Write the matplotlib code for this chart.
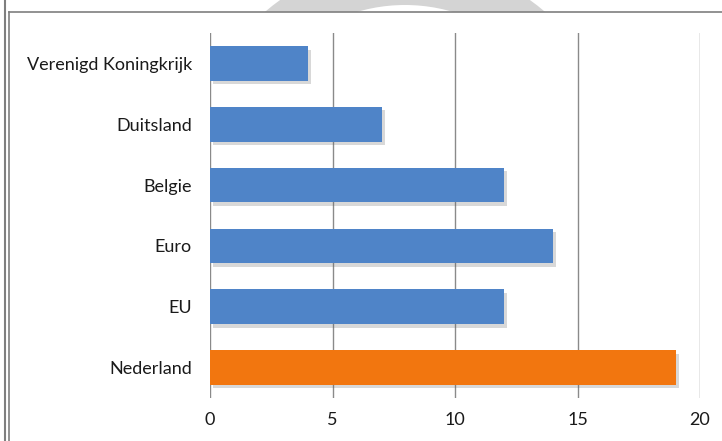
import matplotlib
matplotlib.use("Agg")
import matplotlib.pyplot as plt
import matplotlib.patheffects as pe
from matplotlib.patches import Wedge
from matplotlib.lines import Line2D

categories = ["Verenigd Koningkrijk", "Duitsland", "Belgie", "Euro", "EU", "Nederland"]
values = [4, 7, 12, 14, 12, 19]
colors = ["#4F84C8", "#4F84C8", "#4F84C8", "#4F84C8", "#4F84C8", "#F2760F"]
xticks = [0, 5, 10, 15, 20]

plt.rcParams['font.family'] = ['Lato', 'DejaVu Sans']

W, H = 722, 441
fig = plt.figure(figsize=(W / 100, H / 100), dpi=100)
fig.patch.set_facecolor("white")

# watermark hints above frame line
wm = fig.add_axes([0, 0, 1, 1], zorder=0)
wm.set_xlim(0, W)
wm.set_ylim(H, 0)
wm.axis("off")
ring = Wedge((405, 175), 215, 0, 360, width=45, facecolor="#d4d4d4", edgecolor="none")
wm.add_patch(ring)
wm.fill_between([0, W], 12, H, color="white", zorder=2)

# frame lines
fig.add_artist(Line2D([5 / W, 5 / W], [0, 1], color="#7f7f7f", lw=1.5))
fig.add_artist(Line2D([8.5 / W, 8.5 / W], [0, 1 - 12 / H], color="#7f7f7f", lw=1.2))
fig.add_artist(Line2D([8.5 / W, 1], [1 - 12 / H, 1 - 12 / H], color="#7f7f7f", lw=1.2))

ax = fig.add_axes([210 / W, 1 - 398 / H, (700 - 210) / W, (398 - 33) / H], zorder=1)
ax.patch.set_alpha(0)
n = len(categories)
ypos = [n - 1 - i for i in range(n)]
bars = ax.barh(ypos, values, height=0.57, color=colors, zorder=3)
for b in bars:
    b.set_path_effects([pe.SimplePatchShadow(offset=(2.5, -2.5), shadow_rgbFace="#666666", alpha=0.25), pe.Normal()])

ax.set_xlim(0, 20)
ax.set_ylim(-0.5, n - 0.5)
ax.set_xticks(xticks)
ax.set_xticklabels([str(t) for t in xticks])
ax.set_yticks(ypos)
ax.set_yticklabels(categories)
for s in ax.spines.values():
    s.set_visible(False)
ax.grid(axis="x", color="#8a8a8a", lw=1.0, zorder=0)
ax.set_axisbelow(True)
ax.tick_params(axis="both", length=0, labelsize=13, colors="#1a1a1a")
ax.tick_params(axis="y", pad=13)
ax.tick_params(axis="x", pad=10)

fig.savefig("out.png", dpi=100, facecolor="white")
